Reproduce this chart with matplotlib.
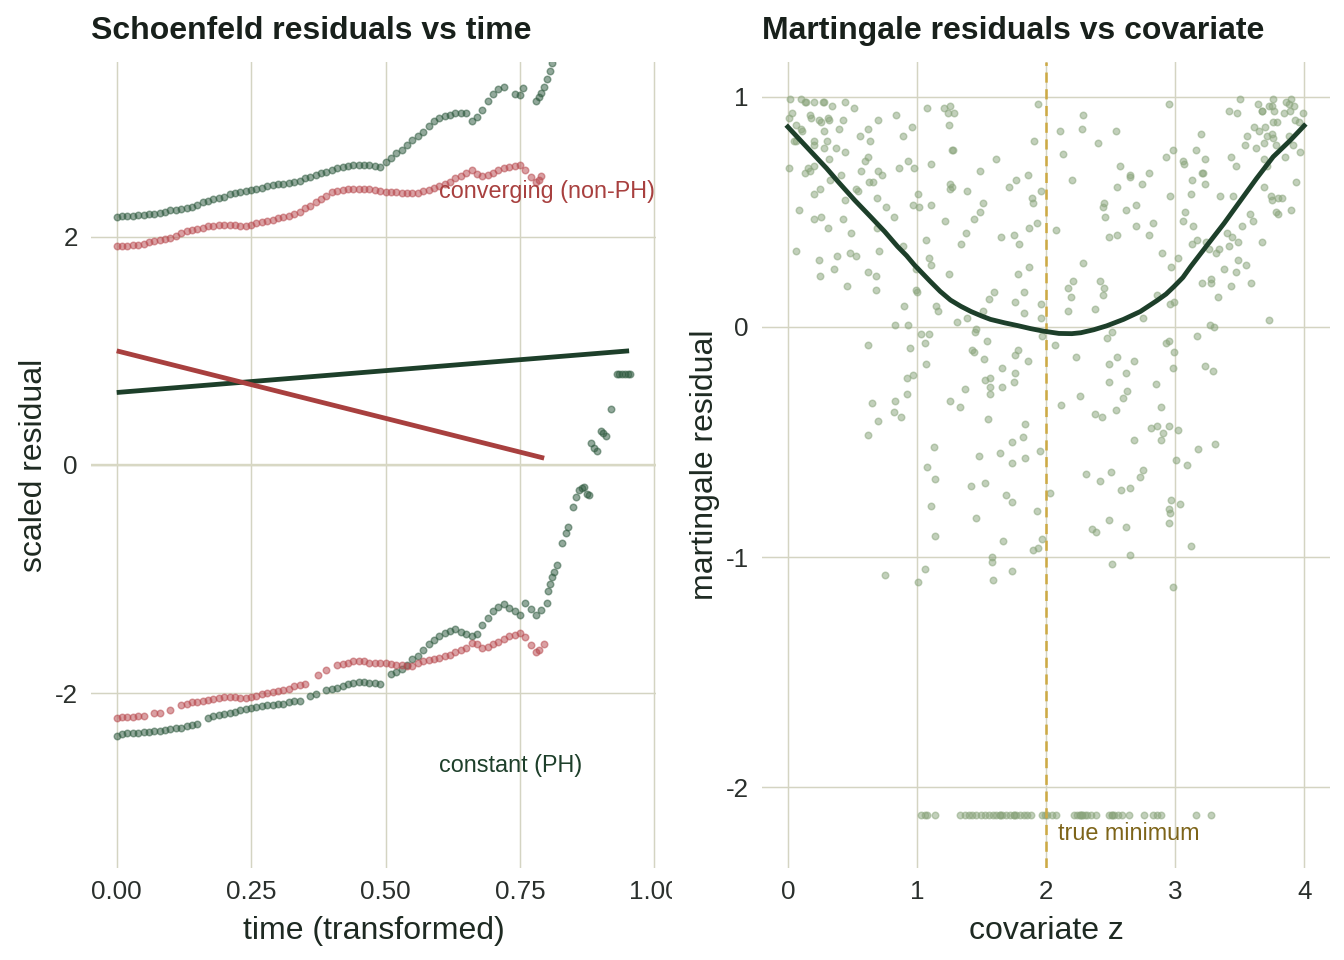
import numpy as np
import matplotlib
matplotlib.use("Agg")
import matplotlib.pyplot as plt
from matplotlib.transforms import Bbox, TransformedBbox

plt.rcParams['font.family'] = ['Liberation Sans', 'DejaVu Sans']

# ---------------- data: Schoenfeld residuals ----------------
const_up_t = [0.00,0.01,0.02,0.03,0.04,0.05,0.06,0.07,0.08,0.09,0.10,0.11,0.12,0.13,0.14,0.15,0.16,0.17,0.18,0.19,
              0.20,0.21,0.22,0.23,0.24,0.25,0.26,0.27,0.28,0.29,0.30,0.31,0.32,0.33,0.34,0.35,0.36,0.37,0.38,0.39,
              0.40,0.41,0.42,0.43,0.44,0.45,0.46,0.47,0.48,0.49,0.50,0.51,0.52,0.53,0.54,0.55,0.56,0.57,0.58,0.59,
              0.60,0.61,0.62,0.63,0.64,0.65,0.66,0.67,0.68,0.69,0.70,0.71,0.72,0.74,0.75,0.755,0.78,0.785,0.79,0.795,
              0.80,0.805,0.81,0.815,0.82]
const_up_r = [2.17,2.18,2.18,2.18,2.19,2.19,2.20,2.20,2.21,2.22,2.23,2.23,2.24,2.25,2.26,2.28,2.30,2.31,2.33,2.34,
              2.35,2.37,2.38,2.39,2.40,2.41,2.42,2.43,2.44,2.45,2.46,2.46,2.47,2.48,2.49,2.51,2.52,2.54,2.56,2.57,
              2.58,2.60,2.61,2.62,2.63,2.63,2.63,2.63,2.62,2.61,2.65,2.69,2.73,2.76,2.80,2.85,2.88,2.92,2.97,3.01,
              3.04,3.06,3.07,3.08,3.08,3.08,3.01,3.05,3.11,3.19,3.25,3.29,3.31,3.25,3.24,3.30,3.19,3.22,3.26,3.31,
              3.38,3.45,3.52,3.60,3.70]
const_lo_t = [0.00,0.01,0.02,0.03,0.04,0.05,0.06,0.07,0.08,0.09,0.10,0.11,0.12,0.13,0.14,0.15,0.17,0.18,0.19,0.20,
              0.21,0.22,0.23,0.24,0.25,0.26,0.27,0.28,0.29,0.30,0.31,0.32,0.33,0.34,0.36,0.37,0.39,0.40,0.41,0.42,
              0.43,0.44,0.45,0.46,0.47,0.48,0.49,0.51,0.52,0.53,0.54,0.55,0.56,0.57,0.58,0.59,0.60,0.61,0.62,0.63,
              0.64,0.65,0.66,0.67,0.68,0.69,0.70,0.71,0.72,0.73,0.74,0.75,0.76,0.77,0.78,0.79,0.80,0.803,0.806,0.809,
              0.813,0.819,0.829,0.835,0.840,0.849,0.855,0.860,0.865,0.870,0.875,0.878,0.883,0.888,0.893,0.900,0.905,0.910,
              0.920,0.930,0.935,0.940,0.945,0.950,0.955]
const_lo_r = [-2.37,-2.36,-2.35,-2.35,-2.35,-2.34,-2.34,-2.33,-2.33,-2.32,-2.31,-2.30,-2.30,-2.29,-2.28,-2.27,-2.22,-2.20,-2.19,-2.18,
              -2.17,-2.16,-2.15,-2.14,-2.13,-2.12,-2.11,-2.10,-2.10,-2.09,-2.09,-2.08,-2.07,-2.07,-2.02,-2.01,-1.97,-1.96,-1.95,-1.94,
              -1.92,-1.91,-1.90,-1.90,-1.91,-1.91,-1.92,-1.83,-1.81,-1.79,-1.75,-1.70,-1.67,-1.62,-1.57,-1.53,-1.50,-1.47,-1.45,-1.44,
              -1.46,-1.48,-1.50,-1.48,-1.40,-1.34,-1.28,-1.24,-1.22,-1.25,-1.28,-1.31,-1.21,-1.26,-1.31,-1.27,-1.21,-1.10,-1.04,-0.98,
              -0.94,-0.88,-0.68,-0.60,-0.54,-0.37,-0.28,-0.22,-0.20,-0.19,-0.25,-0.26,0.19,0.15,0.12,0.30,0.28,0.25,
              0.49,0.80,0.80,0.80,0.80,0.80,0.80]
conv_up_t = [0.00,0.01,0.02,0.03,0.04,0.05,0.06,0.07,0.08,0.09,0.10,0.11,0.12,0.13,0.14,0.15,0.16,0.17,0.18,0.19,
             0.20,0.21,0.22,0.23,0.24,0.25,0.26,0.27,0.28,0.29,0.30,0.31,0.32,0.33,0.34,0.35,0.36,0.37,0.38,0.39,
             0.40,0.41,0.42,0.43,0.44,0.45,0.46,0.47,0.48,0.49,0.50,0.51,0.52,0.53,0.54,0.55,0.56,0.57,0.58,0.59,
             0.60,0.61,0.62,0.63,0.64,0.65,0.66,0.67,0.68,0.69,0.70,0.71,0.72,0.73,0.74,0.75,0.76,0.77,0.78,0.785,0.79]
conv_up_r = [1.92,1.92,1.92,1.93,1.93,1.94,1.95,1.96,1.97,1.98,1.99,2.01,2.03,2.05,2.06,2.07,2.08,2.09,2.09,2.10,
             2.10,2.10,2.10,2.09,2.09,2.10,2.12,2.13,2.14,2.15,2.16,2.17,2.18,2.20,2.22,2.25,2.27,2.30,2.33,2.36,
             2.39,2.40,2.41,2.42,2.42,2.42,2.42,2.42,2.41,2.40,2.39,2.39,2.39,2.38,2.38,2.38,2.38,2.40,2.41,2.43,
             2.44,2.46,2.48,2.51,2.53,2.56,2.58,2.55,2.53,2.54,2.56,2.58,2.60,2.61,2.62,2.63,2.58,2.52,2.48,2.50,2.53]
conv_lo_t = [0.00,0.01,0.02,0.03,0.04,0.05,0.07,0.08,0.10,0.12,0.13,0.14,0.15,0.16,0.17,0.18,0.19,0.20,0.21,0.22,
             0.23,0.24,0.25,0.26,0.27,0.28,0.29,0.30,0.31,0.32,0.33,0.34,0.35,0.375,0.39,0.41,0.42,0.43,0.44,0.45,
             0.46,0.47,0.48,0.49,0.50,0.51,0.52,0.53,0.54,0.55,0.56,0.57,0.58,0.59,0.60,0.61,0.62,0.63,0.64,0.65,
             0.66,0.67,0.68,0.69,0.70,0.71,0.72,0.73,0.74,0.75,0.76,0.77,0.78,0.785,0.795]
conv_lo_r = [-2.22,-2.21,-2.21,-2.21,-2.20,-2.20,-2.17,-2.17,-2.15,-2.10,-2.09,-2.08,-2.08,-2.07,-2.06,-2.05,-2.04,-2.03,-2.03,-2.03,
             -2.04,-2.04,-2.03,-2.02,-2.01,-2.00,-1.99,-1.98,-1.97,-1.96,-1.94,-1.93,-1.92,-1.84,-1.80,-1.75,-1.74,-1.73,-1.72,-1.72,
             -1.72,-1.73,-1.73,-1.73,-1.73,-1.74,-1.75,-1.75,-1.76,-1.76,-1.73,-1.72,-1.71,-1.70,-1.69,-1.67,-1.66,-1.64,-1.62,-1.60,
             -1.56,-1.57,-1.60,-1.59,-1.57,-1.55,-1.52,-1.50,-1.49,-1.47,-1.51,-1.58,-1.64,-1.62,-1.57]
# fitted beta(t) lines
const_fit_t = [0.0, 0.953]
const_fit_b = [0.635, 1.0]
conv_fit_t = [0.0, 0.795]
conv_fit_b = [1.0, 0.06]

# ---------------- data: martingale residuals ----------------
mart_z = [0.02,0.10,0.13,0.14,0.20,0.27,0.28,0.34,0.44,0.51, 0.01,0.03,0.17,0.18,0.24,0.26,0.31,0.32,0.43,0.06,
          0.10,0.11,0.28,0.40,0.62,0.70,0.84,0.96,1.08,1.21, 1.26,1.24,1.29,1.25,1.94,0.06,0.05,0.20,0.30,0.20,
          0.28,0.37,0.44,0.64,0.56,0.89,1.91,1.28,1.27,0.01, 0.13,0.16,0.20,0.17,0.32,0.60,0.62,0.57,0.70,0.73,
          0.86,0.93,0.98,1.11,1.61,1.49,1.77,1.86,0.33,0.41, 0.63,0.66,0.25,0.20,0.53,0.54,1.01,1.26,1.27,1.26,
          1.39,1.71,1.96,0.09,0.44,0.69,0.76,0.97,1.02,1.11, 1.51,1.49,1.44,1.89,1.90,0.20,0.26,0.43,0.82,0.31,
          0.49,0.69,1.22,1.38,1.87,1.93,1.07,1.34,1.65,1.75, 1.79,0.06,0.24,0.38,0.48,0.53,0.71,0.89,1.09,1.11,
          1.25,0.99,1.87,1.78,0.25,0.36,0.46,0.62,0.68,0.68, 0.99,1.00,0.90,1.15,1.16,0.83,0.93,1.31,1.39,1.51,
          1.56,1.60,1.76,1.83,1.83,1.96,1.96,
          2.95,3.50,3.64,3.73,3.75,3.76,3.86,3.90,3.88,3.92, 3.42,3.48,3.67,3.67,3.77,3.84,3.89,3.99,2.29,2.11,
          2.28,2.54,2.40,3.20,3.61,3.65,3.70,3.76,3.79,3.93, 3.96,3.56,3.71,3.75,3.76,3.54,3.63,3.69,3.78,3.88,
          3.91,2.13,2.57,2.65,2.65,2.80,2.93,2.98,3.06,3.07, 3.16,3.23,3.43,3.47,3.69,3.71,3.85,3.97,2.20,2.55,
          2.74,3.13,3.21,3.22,3.23,3.69,3.94,2.45,2.44,2.46, 2.62,2.70,2.96,3.12,3.35,3.45,3.74,3.75,3.80,3.83,
          3.90,3.78,3.80,2.08,2.49,2.55,2.70,2.80,2.83,3.06, 3.08,3.14,3.58,3.60,3.52,3.40,3.44,2.29,2.90,2.97,
          3.02,3.13,3.17,3.24,3.26,3.32,3.34,3.42,3.49,3.67, 3.49,3.55,3.38,3.47,2.21,2.17,2.19,2.42,2.45,2.44,
          3.21,3.28,3.28,3.43,3.59,3.33,2.17,2.38,2.75,2.86, 2.96,2.99,3.27,3.30,3.73,
          1.03,1.09,1.06,0.62,0.95,1.07,0.92,0.97,0.92,0.65, 0.83,0.82,0.88,0.70,0.62,
          1.45,1.46,1.54,1.43,1.44,1.52,1.78,1.76,1.86,1.66, 1.76,1.53,1.57,1.57,1.57,1.66,1.75,1.37,1.26,1.33,
          1.55,1.84,1.82,1.74,1.64,1.48,1.74,1.84,1.95,1.13, 1.08,1.14,1.42,1.53,1.69,1.74,2.03,1.93,1.46,1.11,
          1.14,1.67,1.97,1.90,1.94,1.58,1.58,1.06,0.75,1.01, 1.59,1.74,
          1.97,2.07,2.23,2.47,2.51,2.49,2.55,2.68,2.62,2.49, 2.63,2.60,2.54,2.26,2.12,2.38,2.43,2.85,2.89,2.81,
          2.86,2.95,2.91,3.02,2.89,2.68,2.93,2.95,2.99,2.98, 3.17,3.23,3.29,
          3.18,3.31,3.01,3.09,2.75,2.73,2.50,2.42,2.31,2.58, 2.65,2.97,3.04,2.95,2.96,2.95,3.12,2.49,2.36,2.39,
          2.62,2.65,2.51,2.98]
mart_r = [0.99,0.99,0.98,0.98,0.98,0.98,0.98,0.96,0.98,0.95, 0.91,0.93,0.92,0.91,0.90,0.89,0.91,0.90,0.90,0.88,
          0.86,0.85,0.85,0.86,0.86,0.90,0.92,0.87,0.95,0.95, 0.96,0.93,0.93,0.88,0.97,0.81,0.81,0.81,0.81,0.79,
          0.78,0.78,0.76,0.81,0.83,0.83,0.81,0.77,0.77,0.69, 0.67,0.69,0.70,0.68,0.73,0.72,0.74,0.68,0.68,0.66,
          0.69,0.72,0.69,0.71,0.73,0.68,0.64,0.66,0.64,0.66, 0.63,0.63,0.60,0.58,0.60,0.59,0.58,0.62,0.61,0.60,
          0.59,0.61,0.59,0.51,0.55,0.56,0.52,0.53,0.52,0.53, 0.54,0.50,0.47,0.56,0.54,0.47,0.48,0.47,0.48,0.43,
          0.41,0.43,0.46,0.41,0.43,0.45,0.38,0.36,0.39,0.40, 0.36,0.33,0.29,0.31,0.32,0.31,0.33,0.35,0.30,0.27,
          0.23,0.25,0.26,0.23,0.22,0.25,0.18,0.24,0.22,0.16, 0.16,0.15,0.09,0.09,0.07,0.01,0.01,0.02,0.04,0.07,
          0.12,0.15,0.11,0.15,0.06,0.10,0.04,
          0.97,0.99,0.97,0.96,0.96,0.99,0.98,0.99,0.97,0.96, 0.94,0.93,0.94,0.94,0.94,0.93,0.94,0.93,0.92,0.85,
          0.86,0.85,0.80,0.84,0.87,0.85,0.87,0.89,0.89,0.90, 0.89,0.83,0.83,0.84,0.82,0.79,0.78,0.80,0.79,0.83,
          0.79,0.75,0.70,0.65,0.66,0.67,0.74,0.77,0.72,0.71, 0.77,0.73,0.74,0.70,0.73,0.70,0.74,0.76,0.64,0.61,
          0.62,0.64,0.67,0.67,0.62,0.61,0.63,0.54,0.52,0.48, 0.51,0.53,0.57,0.58,0.57,0.57,0.57,0.55,0.56,0.56,
          0.51,0.50,0.49,0.42,0.39,0.40,0.44,0.40,0.45,0.46, 0.50,0.44,0.49,0.46,0.44,0.41,0.39,0.28,0.32,0.26,
          0.30,0.36,0.38,0.37,0.34,0.32,0.34,0.35,0.37,0.37, 0.29,0.27,0.25,0.24,0.20,0.17,0.13,0.20,0.17,0.14,
          0.19,0.21,0.19,0.18,0.19,0.13,0.07,0.08,0.04,0.14, 0.10,0.11,0.01,0.00,0.03,
          -0.03,-0.03,-0.07,-0.08,-0.09,-0.16,-0.22,-0.21,-0.29,-0.33, -0.32,-0.37,-0.39,-0.41,-0.47,
          -0.02,-0.01,-0.06,-0.10,-0.11,-0.14,-0.10,-0.12,-0.15,-0.18, -0.20,-0.23,-0.22,-0.26,-0.29,-0.26,-0.24,-0.27,-0.32,-0.35,
          -0.40,-0.42,-0.48,-0.50,-0.55,-0.56,-0.59,-0.57,-0.54,-0.52, -0.61,-0.66,-0.69,-0.68,-0.73,-0.76,-0.72,-0.80,-0.83,-0.78,
          -0.91,-0.93,-0.92,-0.97,-0.96,-1.00,-1.02,-1.05,-1.08,-1.11, -1.10,-1.06,
          -0.04,-0.08,-0.13,-0.05,-0.02,-0.16,-0.13,-0.15,-0.20,-0.24, -0.28,-0.31,-0.36,-0.30,-0.34,-0.38,-0.39,-0.25,-0.35,-0.44,
          -0.43,-0.43,-0.46,-0.45,-0.49,-0.49,-0.07,-0.06,-0.11,-0.18, -0.04,-0.17,-0.19,
          -0.53,-0.51,-0.58,-0.60,-0.62,-0.65,-0.63,-0.67,-0.64,-0.71, -0.70,-0.75,-0.77,-0.79,-0.81,-0.85,-0.95,-0.84,-0.88,-0.89,
          -0.87,-0.99,-1.03,-1.13]
cens_z = [1.03,1.06,1.08,1.14,1.33,1.37,1.40,1.43,1.46,1.50,1.53,1.56,1.59,1.61,1.64,1.64,1.66,1.69,1.72,1.75,1.75,
          1.77,1.80,1.83,1.85,1.88,1.97,1.99,2.01,2.05,2.08,2.22,2.24,2.26,2.26,2.28,2.28,2.30,2.32,2.35,2.39,
          2.49,2.51,2.51,2.53,2.56,2.59,2.64,2.76,2.83,2.86,2.89,3.16,3.28]
cens_r = -2.12
smooth_z = [0.0,0.1,0.2,0.3,0.4,0.52,0.64,0.75,0.85,0.92,0.98,1.04,1.1,1.18,1.26,1.34,1.42,1.5,1.57,1.68,1.78,1.88,1.98,
            2.1,2.2,2.27,2.37,2.47,2.6,2.73,2.86,2.93,2.99,3.06,3.12,3.25,3.38,3.51,3.63,3.76,3.89,4.0]
smooth_r = [0.87,0.81,0.75,0.69,0.625,0.55,0.48,0.415,0.35,0.31,0.27,0.235,0.20,0.155,0.117,0.09,0.067,0.048,0.033,0.018,0.006,-0.007,-0.018,
            -0.028,-0.029,-0.025,-0.012,0.005,0.033,0.067,0.115,0.143,0.175,0.215,0.262,0.357,0.451,0.552,0.645,0.74,0.81,0.875]
true_min = 2.0

# ---------------- style ----------------
GREEN = "#1D3F2A"
GREEN_PT = "#2F5A3F"
RED = "#A8403F"
RED_PT = "#B84A4F"
OLIVE_PT = "#8BA57D"
GOLD = "#CDAA45"
GOLD_TXT = "#7D6419"
GRID = "#D4D4C2"
TXT = "#1E2A22"

W, H = 1344, 960
fig = plt.figure(figsize=(14, 10), dpi=96)
fig.patch.set_facecolor("white")

def px_axes(x0, y0, x1, y1):
    return fig.add_axes([x0 / W, 1 - y1 / H, (x1 - x0) / W, (y1 - y0) / H])

ax1 = px_axes(91, 62, 656, 868)
ax2 = px_axes(762, 62, 1330, 868)

for ax in (ax1, ax2):
    ax.set_facecolor("white")
    for s in ax.spines.values():
        s.set_visible(False)
    ax.grid(True, color=GRID, lw=1.1)
    ax.set_axisbelow(True)
    ax.tick_params(length=0, labelsize=19.5, labelcolor="#2A2F2C")
    ax.tick_params(axis='x', pad=9)
    ax.tick_params(axis='y', pad=10)

# ---- left panel ----
ax1.axhline(0, color="#D8D8C4", lw=1.8, zorder=1)
kw = dict(s=24, linewidths=1.1, alpha=0.52, zorder=2)
ax1.scatter(const_up_t, const_up_r, color=GREEN_PT, **kw)
ax1.scatter(const_lo_t, const_lo_r, color=GREEN_PT, **kw)
ax1.scatter(conv_up_t, conv_up_r, color=RED_PT, **kw)
ax1.scatter(conv_lo_t, conv_lo_r, color=RED_PT, **kw)
ax1.plot(const_fit_t, const_fit_b, color=GREEN, lw=3.6, solid_capstyle='butt', zorder=3)
ax1.plot(conv_fit_t, conv_fit_b, color=RED, lw=3.6, solid_capstyle='butt', zorder=3)
ax1.text(0.60, 2.40, "converging (non-PH)", color=RED, fontsize=17.5, ha='left', va='center')
ax1.text(0.60, -2.63, "constant (PH)", color=GREEN, fontsize=17.5, ha='left', va='center')
ax1.set_xlim(-0.0478, 1.003)
ax1.set_ylim(-3.53, 3.53)
ax1.set_xticks([0, 0.25, 0.5, 0.75, 1.0], ["0.00", "0.25", "0.50", "0.75", "1.00"])
ax1.set_yticks([-2, 0, 2], ["-2", "0", "2"])
ax1.set_xlabel("time (transformed)", fontsize=24, color=TXT, labelpad=9)
ax1.set_ylabel("scaled residual", fontsize=24, color=TXT, labelpad=4)
ax1.set_title("Schoenfeld residuals vs time", loc='left', fontsize=24, fontweight='bold', color="#18201B", pad=17)
clipbox = TransformedBbox(Bbox.from_extents(0, 0, 672 / W, 1), fig.transFigure)
for lab in ax1.get_xticklabels():
    lab.set_clip_box(clipbox)
    lab.set_clip_on(True)

# ---- right panel ----
ax2.scatter(mart_z, mart_r, color=OLIVE_PT, **kw)
ax2.scatter(cens_z, np.full(len(cens_z), cens_r), color=OLIVE_PT, **kw)
ax2.axvline(true_min, color=GOLD, lw=1.9, dashes=(4, 2.6), zorder=3)
ax2.plot(smooth_z, smooth_r, color=GREEN, lw=3.6, zorder=4, solid_joinstyle='round')
ax2.text(true_min + 0.09, -2.2, "true minimum", color=GOLD_TXT, fontsize=17.5, ha='left', va='center')
ax2.set_xlim(-0.2, 4.2)
ax2.set_ylim(-2.352, 1.152)
ax2.set_xticks([0, 1, 2, 3, 4], ["0", "1", "2", "3", "4"])
ax2.set_yticks([-2, -1, 0, 1], ["-2", "-1", "0", "1"])
ax2.set_xlabel("covariate z", fontsize=24, color=TXT, labelpad=9)
ax2.set_ylabel("martingale residual", fontsize=24, color=TXT, labelpad=4)
ax2.set_title("Martingale residuals vs covariate", loc='left', fontsize=24, fontweight='bold', color="#18201B", pad=17)

fig.savefig("out.png", dpi=96, facecolor="white")
